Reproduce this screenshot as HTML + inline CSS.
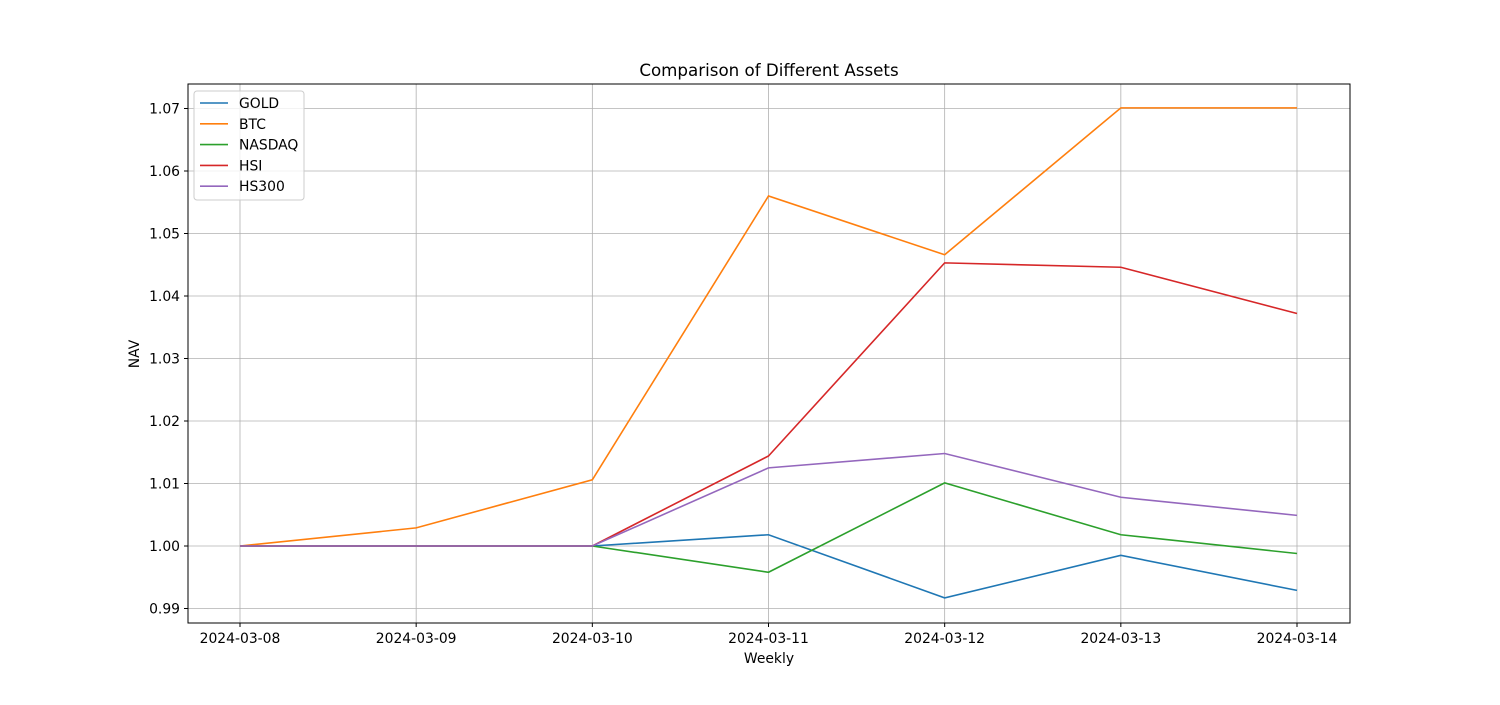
<!DOCTYPE html>
<html><head><meta charset="utf-8"><style>
body{margin:0;background:#fff;font-family:"Liberation Sans","DejaVu Sans",sans-serif;}
svg text{font-family:"DejaVu Sans","Liberation Sans",sans-serif;}
</style></head><body>
<svg id="chart" width="1500" height="700" xmlns="http://www.w3.org/2000/svg">
<rect width="1500" height="700" fill="#fff"/>
<text x="769" y="76" font-size="16.7" text-anchor="middle">Comparison of Different Assets</text>
<g id="grid"></g>
<g id="lines"></g>
<rect x="188" y="84" width="1162" height="539" fill="none" stroke="#000" stroke-width="1"/>
<g id="ticks"></g>
<text x="769" y="663" font-size="13.9" text-anchor="middle">Weekly</text>
<text x="139" y="354" font-size="13.9" text-anchor="middle" transform="rotate(-90 139 354)">NAV</text>
<g id="legend"></g>
</svg>
<script>
const categories=["2024-03-08","2024-03-09","2024-03-10","2024-03-11","2024-03-12","2024-03-13","2024-03-14"];
const gold=[1.000,1.000,1.000,1.0018,0.9917,0.9985,0.9929];
const btc=[1.000,1.0029,1.0106,1.0560,1.0466,1.0701,1.0701];
const nasdaq=[1.000,1.000,1.000,0.9958,1.0101,1.0018,0.9988];
const hsi=[1.000,1.000,1.000,1.0144,1.0453,1.0446,1.0372];
const hs300=[1.000,1.000,1.000,1.0125,1.0148,1.0078,1.0049];
const seriesNames=["GOLD","BTC","NASDAQ","HSI","HS300"];
const yTicks=[0.99,1.00,1.01,1.02,1.03,1.04,1.05,1.06,1.07];
const colors=["#1f77b4","#ff7f0e","#2ca02c","#d62728","#9467bd"];
const NS="http://www.w3.org/2000/svg";
function x(i){return 240+i*(1297-240)/(categories.length-1);}
function y(v){return 546-(v-1.0)*6250;}
function mk(tag,attrs,parent){const e=document.createElementNS(NS,tag);for(const k in attrs)e.setAttribute(k,attrs[k]);parent.appendChild(e);return e;}
const grid=document.getElementById('grid'),ticks=document.getElementById('ticks'),lines=document.getElementById('lines'),legend=document.getElementById('legend');
categories.forEach((c,i)=>{
 const g=mk('line',{x1:x(i),x2:x(i),y1:84,y2:623,stroke:'#b0b0b0','stroke-width':0.8},grid);
 
 
 mk('line',{x1:x(i),x2:x(i),y1:623,y2:627,stroke:'#000'},ticks);
 const t=mk('text',{x:x(i),y:643,'font-size':13.9,'text-anchor':'middle'},ticks);
 t.textContent=c;
 
 
});
yTicks.forEach(v=>{
 const g=mk('line',{x1:188,x2:1350,y1:y(v),y2:y(v),stroke:'#b0b0b0','stroke-width':0.8},grid);
 
 
 mk('line',{x1:184,x2:188,y1:y(v),y2:y(v),stroke:'#000'},ticks);
 const t=mk('text',{x:180,y:y(v)+5,'font-size':13.9,'text-anchor':'end'},ticks);
 t.textContent=v.toFixed(2);
 
 
});
[gold,btc,nasdaq,hsi,hs300].forEach((s,k)=>{
 const p=mk('polyline',{points:s.map((v,i)=>x(i)+','+y(v)).join(' '),fill:'none',stroke:colors[k],'stroke-width':1.6},lines);
 
 
});
const lb=mk('rect',{x:194,y:91,width:110,height:109,rx:3,fill:'#fff','fill-opacity':0.8,stroke:'#ccc'},legend);


seriesNames.forEach((n,k)=>{
 const yy=103+k*20.8;
 mk('line',{x1:200,x2:228,y1:yy,y2:yy,stroke:colors[k],'stroke-width':1.6},legend);
 const t=mk('text',{x:239,y:yy+5,'font-size':13.9},legend);
 t.textContent=n;
 
 
});
</script>
</body></html>
